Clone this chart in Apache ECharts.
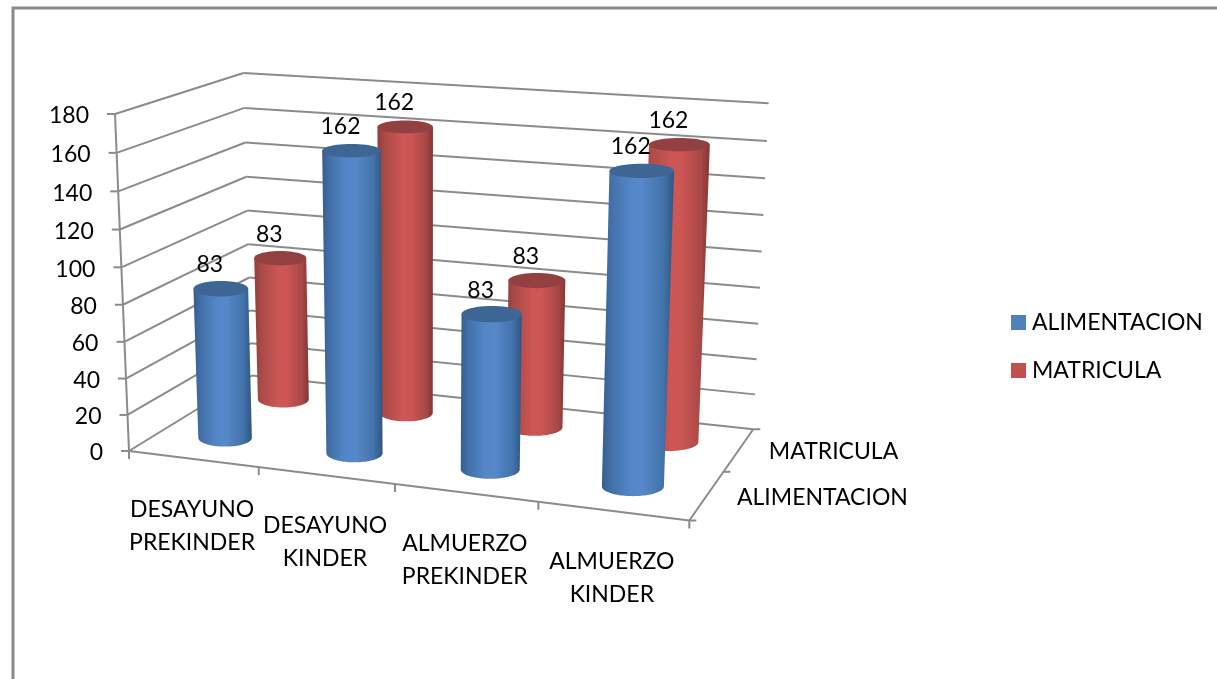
<!DOCTYPE html>
<html>
<head>
<meta charset="utf-8">
<style>html,body{margin:0;padding:0;background:#fff}#c{width:1217px;height:679px}</style>
<script src="https://cdn.jsdelivr.net/npm/echarts@6/dist/echarts.min.js"></script>
</head>
<body>
<div id="c"></div>
<script>
const categories = ['DESAYUNO PREKINDER', 'DESAYUNO KINDER', 'ALMUERZO PREKINDER', 'ALMUERZO KINDER'];
const depthNames = ['ALIMENTACION', 'MATRICULA'];
const alimentacion = [83, 162, 83, 162];
const matricula = [83, 162, 83, 162];
const valueTicks = [0, 20, 40, 60, 80, 100, 120, 140, 160, 180];

// Perspective box of the 3D plot: unit cube -> screen.
const FONT = '23px Lato';
const BASE = { O: [129, 451], A: [689.3, 520.5], B: [252, 375.5] };
const ROOF = { O: [115, 114], A: [702, 153], B: [243.5, 73] };
const PG = -0.096, PI = 0.13, PH = -0.0415;
const GW = 1000, GH = 400;

function plane(c, u, w) {
  const den = 1 + PG * u + PI * w;
  return [0, 1].map(k => (c.O[k] + ((1 + PG) * c.A[k] - c.O[k]) * u + ((1 + PI) * c.B[k] - c.O[k]) * w) / den);
}
function project(u, v, w) {
  const t = (1 + PH) * v / (1 + PH * v);
  const a = plane(BASE, u, w), b = plane(ROOF, u, w);
  return [a[0] + (b[0] - a[0]) * t, a[1] + (b[1] - a[1]) * t];
}
// Read normalised positions through the (hidden) ECharts scales.
function norm(api, cat, val) {
  const p = api.coord([cat, val]);
  return { u: p[0] / GW, v: (GH - p[1]) / GH };
}
const LINE = { stroke: '#8b8b8b', lineWidth: 2, fill: null };
function seg(a, b) {
  return { type: 'line', shape: { x1: a[0], y1: a[1], x2: b[0], y2: b[1] }, style: LINE, silent: true };
}
function text(str, x, y, align, z2) {
  return { type: 'text', z2: z2 || 10, silent: true, style: { text: str, x, y: y + 1, align, verticalAlign: 'middle', font: FONT, fill: '#000', lineHeight: 33 } };
}

function renderValueTick(params, api) {
  const v = norm(api, 0, api.value(1)).v;
  const f = project(0, v, 0), b = project(0, v, 1), r = project(1, v, 1);
  return { type: 'group', children: [
    seg(f, b), seg(b, r), seg([f[0] - 8, f[1]], f),
    text(String(api.value(1)), f[0] - 26, f[1] + 1, 'right')
  ] };
}
function renderCategory(params, api) {
  const i = api.value(0), n = norm(api, i, 0), band = api.size([1, 0])[0] / GW;
  const left = project(n.u - band / 2, 0, 0), mid = project(n.u, 0, 0);
  const kids = [seg([left[0], left[1]], [left[0], left[1] + 8]),
    text(categories[i].split(' ').join('\n'), mid[0] - 1, mid[1] + 66, 'center')];
  if (i === categories.length - 1) {
    const right = project(n.u + band / 2, 0, 0);
    kids.push(seg(right, [right[0], right[1] + 8]));
  }
  return { type: 'group', children: kids };
}
function renderFrame(params, api) {
  const o = project(0, 0, 0), r = project(1, 0, 0), br = project(1, 0, 1);
  const top = project(0, 1, 0);
  const kids = [seg(o, r), seg(r, br), seg(top, o)];
  [0, 0.5, 1].forEach(w => {
    const p = project(1, 0, w);
    kids.push(seg(p, [p[0] + 7, p[1]]));
  });
  depthNames.forEach((nm, k) => {
    const p = project(1, 0, (k + 0.5) / depthNames.length);
    kids.push(text(nm, p[0] + 30, p[1] + 1, 'left'));
  });
  return { type: 'group', children: kids };
}
function ellipsePts(cx, cy, rx, ry, from, to) {
  const pts = [];
  for (let t = 0; t <= 48; t++) {
    const a = from + (to - from) * t / 48;
    pts.push([cx + rx * Math.cos(a), cy + ry * Math.sin(a)]);
  }
  return pts;
}
function cylinder(look, w) {
  return function (params, api) {
    const RU = 0.053, RW = 0.065;
    const n = norm(api, api.value(0), api.value(1));
    const measure = v => {
      const c = project(n.u, v, w);
      const l = project(n.u - RU, v, w), r = project(n.u + RU, v, w);
      const f = project(n.u, v, w - RW), b = project(n.u, v, w + RW);
      return { c, rx: (r[0] - l[0]) / 2, ry: 3.5 + (f[1] - b[1]) / 2 };
    };
    const lo = measure(0), hi = measure(n.v);
    const side = [[hi.c[0] + hi.rx, hi.c[1]], [hi.c[0] - hi.rx, hi.c[1]]]
      .concat(ellipsePts(lo.c[0], lo.c[1], lo.rx, lo.ry, Math.PI, 0));
    return { type: 'group', children: [
      { type: 'polygon', shape: { points: side }, style: { fill: { type: 'linear', x: 0, y: 0, x2: 1, y2: 0, colorStops: look.stops } } },
      { type: 'polygon', shape: { points: ellipsePts(hi.c[0], hi.c[1], hi.rx, hi.ry, 0, Math.PI * 2) }, style: { fill: look.cap } },
      text(String(api.value(1)), hi.c[0] - 11, hi.c[1] - 25, 'center', 20)
    ] };
  };
}
const BLUE = { flat: '#4f81bd', cap: '#3d6694', stops: [
  { offset: 0, color: '#335e90' }, { offset: 0.12, color: '#426fa8' }, { offset: 0.4, color: '#5487c8' },
  { offset: 0.55, color: '#5788c9' }, { offset: 0.85, color: '#4373ab' }, { offset: 1, color: '#2f5583' }] };
const RED = { flat: '#c0504d', cap: '#934140', stops: [
  { offset: 0, color: '#8f3f3d' }, { offset: 0.12, color: '#a84a47' }, { offset: 0.45, color: '#cd5755' },
  { offset: 0.6, color: '#cc5654' }, { offset: 0.88, color: '#a64846' }, { offset: 1, color: '#833533' }] };

const pairs = arr => arr.map((v, i) => [i, v]);
const common = { type: 'custom', coordinateSystem: 'cartesian2d', clip: false, silent: true, animation: false };
const chart = echarts.init(document.getElementById('c'), null, { renderer: 'canvas' });
chart.setOption({
  animation: false,
  backgroundColor: '#fff',
  tooltip: { show: false },
  grid: { left: 0, top: 0, width: GW, height: GH, show: false },
  xAxis: { type: 'category', data: categories, show: false },
  yAxis: { type: 'value', min: 0, max: 180, interval: 20, show: false },
  legend: {
    orient: 'vertical', left: 1006, top: 306, icon: 'rect', itemWidth: 15, itemHeight: 15, itemGap: 25,
    data: depthNames, selectedMode: false,
    textStyle: { fontFamily: 'Lato', fontSize: 23, color: '#000', padding: [0, 0, 0, 1] }
  },
  graphic: [{ type: 'rect', silent: true, shape: { x: 13, y: 8, width: 1400, height: 900 }, style: { fill: null, stroke: '#8a8a8a', lineWidth: 3 } }],
  series: [
    Object.assign({}, common, { name: 'ticks', z: 1, data: valueTicks.map(v => [0, v]), renderItem: renderValueTick, encode: { x: 0, y: 1 } }),
    Object.assign({}, common, { name: 'cats', z: 1, data: categories.map((c, i) => [i, 0]), renderItem: renderCategory, encode: { x: 0, y: 1 } }),
    Object.assign({}, common, { name: 'frame', z: 1, data: [[0, 0]], renderItem: renderFrame, encode: { x: 0, y: 1 } }),
    Object.assign({}, common, { name: depthNames[1], z: 3, itemStyle: { color: RED.flat }, data: pairs(matricula), renderItem: cylinder(RED, 0.75), encode: { x: 0, y: 1 } }),
    Object.assign({}, common, { name: depthNames[0], z: 4, itemStyle: { color: BLUE.flat }, data: pairs(alimentacion), renderItem: cylinder(BLUE, 0.25), encode: { x: 0, y: 1 } })
  ]
});
</script>
</body>
</html>
